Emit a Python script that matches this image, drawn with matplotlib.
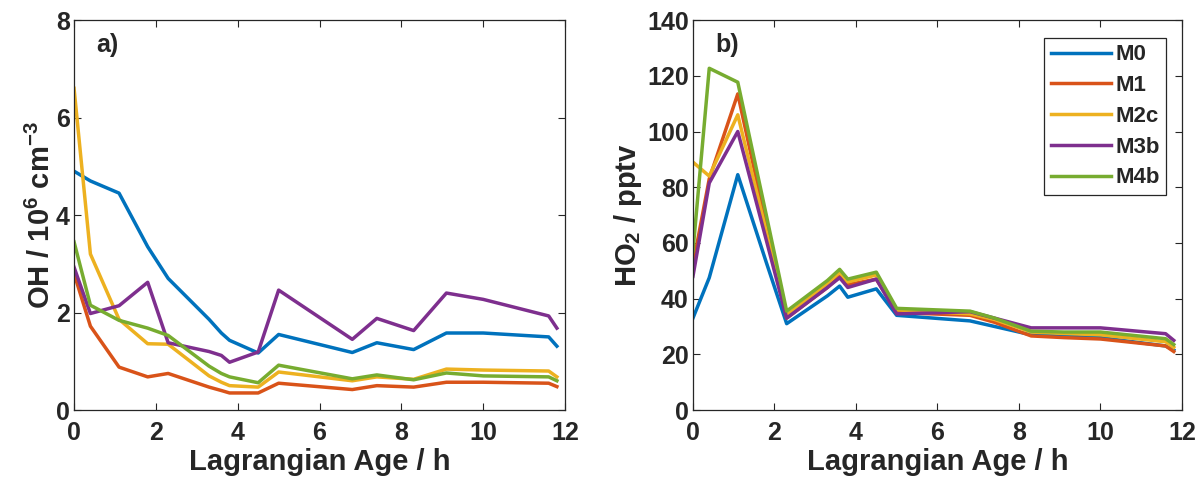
import numpy as np
import matplotlib
matplotlib.use('Agg')
import matplotlib.pyplot as plt

plt.rcParams['font.family'] = ['Liberation Sans', 'DejaVu Sans']
plt.rcParams['font.weight'] = 'bold'
plt.rcParams['axes.labelweight'] = 'bold'
plt.rcParams['mathtext.fontset'] = 'custom'
plt.rcParams['mathtext.rm'] = 'Liberation Sans:bold'
plt.rcParams['mathtext.bf'] = 'Liberation Sans:bold'
plt.rcParams['mathtext.default'] = 'bf'

# Lagrangian age (h)
age = [0, 0.4, 1.1, 1.8, 2.3, 3.3, 3.6, 3.8, 4.5, 5.0, 6.8, 7.4, 8.3, 9.1, 10.0, 11.6, 11.8]

models = ['M0', 'M1', 'M2c', 'M3b', 'M4b']
colors = ['#0072BD', '#D95319', '#EDB120', '#7E2F8E', '#77AC30']

# OH / 1e6 cm-3
oh_m0 = [4.9, 4.7, 4.45, 3.35, 2.7, 1.86, 1.58, 1.43, 1.17, 1.55, 1.18, 1.38, 1.24, 1.58, 1.58, 1.5, 1.31]
oh_m1 = [2.8, 1.72, 0.88, 0.68, 0.75, 0.47, 0.4, 0.35, 0.35, 0.55, 0.42, 0.5, 0.47, 0.57, 0.57, 0.55, 0.48]
oh_m2c = [6.6, 3.2, 1.86, 1.36, 1.35, 0.7, 0.57, 0.5, 0.47, 0.78, 0.6, 0.68, 0.63, 0.84, 0.82, 0.8, 0.68]
oh_m3b = [2.93, 1.98, 2.14, 2.62, 1.38, 1.2, 1.12, 0.98, 1.19, 2.46, 1.45, 1.88, 1.63, 2.4, 2.27, 1.93, 1.68]
oh_m4b = [3.45, 2.15, 1.84, 1.68, 1.53, 0.9, 0.75, 0.68, 0.56, 0.92, 0.64, 0.72, 0.62, 0.76, 0.7, 0.68, 0.6]

# HO2 / pptv
ho2_m0 = [33, 47.5, 84.5, 53, 31, 41, 44.5, 40.5, 43.5, 34, 32, 30, 27, 26.5, 26, 23, 21.5]
ho2_m1 = [52, 83, 113.5, 66.5, 33, 44, 48, 45, 47, 35, 34, 31.5, 26.6, 26, 25.5, 23, 21]
ho2_m2c = [89, 84, 106, 64, 34, 45.5, 49.5, 46, 48.5, 36, 34.5, 32.5, 28, 27.5, 27, 24.5, 22.5]
ho2_m3b = [48, 81.5, 100, 61, 33, 44, 47.5, 44, 47, 34.5, 35.3, 33, 29.5, 29.5, 29.5, 27.4, 25]
ho2_m4b = [57, 122.7, 117.7, 70, 35.5, 46.5, 50.5, 47, 49.5, 36.5, 35.5, 33, 28.3, 28, 28, 25.6, 23.5]

oh = [oh_m0, oh_m1, oh_m2c, oh_m3b, oh_m4b]
ho2 = [ho2_m0, ho2_m1, ho2_m2c, ho2_m3b, ho2_m4b]

fig = plt.figure(figsize=(12.02, 4.88), dpi=100)
ax1 = fig.add_axes([0.0616, 0.1598, 0.4085, 0.799])
ax2 = fig.add_axes([0.5765, 0.1598, 0.4068, 0.799])

dark = '#262626'
for ax, data, ylim, yticks in [(ax1, oh, 8, np.arange(0, 9, 2)),
                               (ax2, ho2, 140, np.arange(0, 141, 20))]:
    for name, vals, c in zip(models, data, colors):
        ax.plot(age, vals, color=c, lw=2.5, label=name)
    ax.set_xlim(0, 12)
    ax.set_ylim(0, ylim)
    ax.set_xticks(np.arange(0, 13, 2))
    ax.set_yticks(yticks)
    ax.tick_params(direction='in', length=5, width=0.8, colors=dark,
                   labelsize=18, top=True, right=True, pad=3)
    ax.tick_params(axis='x', pad=8)
    for s in ax.spines.values():
        s.set_color(dark)
        s.set_linewidth(0.9)
    ax.set_xlabel('Lagrangian Age / h', fontsize=21, color=dark, labelpad=2)

ax1.set_ylabel(r'OH / 10$^{6}$ cm$^{-3}$', fontsize=21, color=dark, labelpad=0)
ax2.set_ylabel(r'HO$_{2}$ / pptv', fontsize=21, color=dark, labelpad=2)

ax1.text(0.045, 0.936, 'a)', transform=ax1.transAxes, fontsize=18,
         fontweight='bold', color=dark, va='center')
ax2.text(0.045, 0.936, 'b)', transform=ax2.transAxes, fontsize=18,
         fontweight='bold', color=dark, va='center')

leg = ax2.legend(loc='upper right', bbox_to_anchor=(0.968, 0.955), fontsize=16,
                 handlelength=2.7, handletextpad=0.2, labelspacing=0.44,
                 borderpad=0.3, borderaxespad=0.0, fancybox=False, framealpha=1)
leg.get_frame().set_edgecolor(dark)
leg.get_frame().set_linewidth(0.9)
for t in leg.get_texts():
    t.set_color(dark)

plt.savefig('out.png', dpi=100)
